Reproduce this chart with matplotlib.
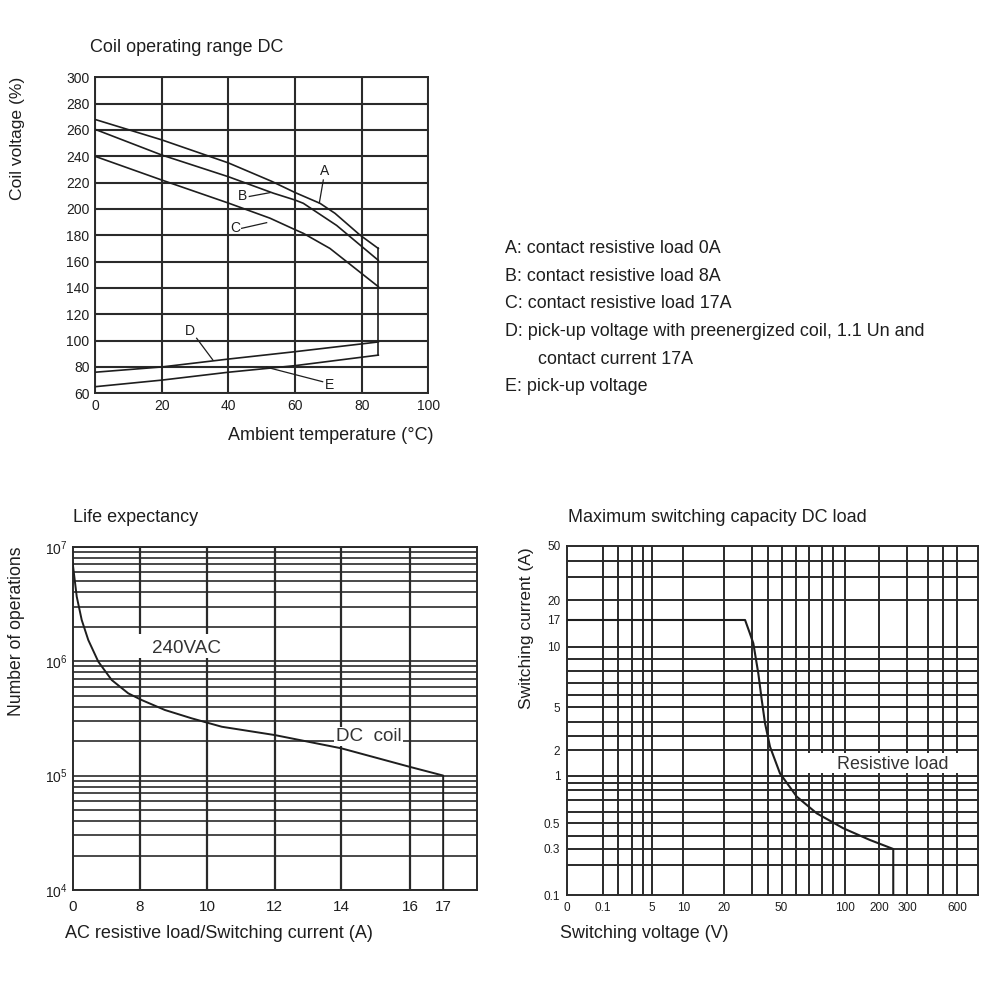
import numpy as np
import matplotlib
matplotlib.use("Agg")
import matplotlib.pyplot as plt
from matplotlib.patches import Rectangle
from matplotlib.ticker import LogLocator, NullFormatter

plt.rcParams['font.family'] = ['Liberation Sans', 'DejaVu Sans']
plt.rcParams['mathtext.fontset'] = 'custom'
plt.rcParams['mathtext.rm'] = 'Liberation Sans'

INK = '#1e1e1e'
GRID = '#2a2a2a'

# --- Coil operating range DC ---
temp_A = [0, 20, 40, 53, 60, 67.5, 72, 79.5, 85]
volt_A = [268, 252.5, 235, 221, 212.5, 204.3, 196.7, 180.2, 170]
temp_B = [0, 20, 40, 53.5, 60, 62.5, 72.5, 85]
volt_B = [260.5, 241, 224.5, 212, 206.8, 204.3, 187.5, 161]
temp_C = [0, 20, 40, 52.5, 60, 62.5, 70.5, 85]
volt_C = [240, 222, 204.5, 193, 184.3, 181.5, 170, 141]
temp_D = [0, 20, 40, 60, 85]
volt_D = [76, 80, 86, 91.6, 99]
temp_E = [0, 20, 40, 60, 85]
volt_E = [65, 70, 76, 81, 89]
edge_temp = [85, 85]
edge_volt = [170, 89]

# label letter, text position, leader start, leader end
curve_labels = [
    ('A', (69, 228.5), (68.5, 222), (67.3, 204.5)),
    ('B', (44.3, 209.5), (46.3, 209.5), (52.5, 212.4)),
    ('C', (42, 185.3), (44, 185.3), (51.5, 189.6)),
    ('D', (28.5, 107), (30.5, 101.8), (35.3, 85.5)),
    ('E', (70.3, 66.3), (68.3, 68.8), (51.5, 79.8)),
]

legend_lines = [
    'A: contact resistive load 0A',
    'B: contact resistive load 8A',
    'C: contact resistive load 17A',
    'D: pick-up voltage with preenergized coil, 1.1 Un and',
    'contact current 17A',
    'E: pick-up voltage',
]
legend_indent = [False, False, False, False, True, False]

# --- Life expectancy ---
life_current = [0, 0.07, 0.48, 1.07, 1.85, 3.04, 4.63, 6.6, 8.05, 8.74, 9.54,
                10.43, 12, 14, 16, 17, 17]
life_ops = [7.2e6, 6.5e6, 3.66e6, 2.29e6, 1.53e6, 9.9e5, 6.84e5, 5.23e5, 4.57e5,
            3.74e5, 3.16e5, 2.67e5, 2.26e5, 1.73e5, 1.19e5, 1.0e5, 1e4]
life_xticks = [0, 8, 10, 12, 14, 16, 17]
life_xgrid = [8, 10, 12, 14, 16]
life_yticks = [1e4, 1e5, 1e6, 1e7]
life_ylabels = [r'$10^{4}$', r'$10^{5}$', r'$10^{6}$', r'$10^{7}$']

# --- Maximum switching capacity DC load ---
sw_voltage = [0, 31, 33.5, 35.3, 37.9, 39.7, 41.4, 44.0, 49.2, 62, 77.7, 98.7,
              173.5, 251, 251]
sw_current = [17, 17, 13.5, 10.9, 7.8, 5.6, 3.88, 2.23, 1.09, 0.78, 0.605, 0.461,
              0.37, 0.3, 0.1]
sw_xticks = [0, 0.1, 5, 10, 20, 50, 100, 200, 300, 600]
sw_yticks = [0.1, 0.3, 0.5, 1, 2, 5, 10, 17, 20, 50]
sw_xgrid = [0.1, 1.6, 3, 4.1, 5, 10, 20, 34.5, 42.8, 50, 61.8, 71.7, 81.9, 90.8,
            100, 200, 300, 427, 513, 600]
sw_ygrid = [0.23, 0.3, 0.4, 0.5, 0.62, 0.75, 0.85, 0.92, 1, 2, 3, 4, 5, 6, 7, 8,
            9, 10, 20, 32.9, 41.5]

# non-uniform printed scales of the datasheet (value -> fraction of axis)
life_x_knots = [0, 8, 10, 12, 14, 16, 17, 18]
life_x_frac = [0, 0.1667, 0.3333, 0.5, 0.665, 0.835, 0.917, 1.0]
sw_x_knots = [0, 0.1, 5, 10, 20, 50, 100, 200, 300, 600, 725]
sw_x_frac = [0, 0.0861, 0.2068, 0.2822, 0.3812, 0.5212, 0.6757, 0.7583, 0.8265,
             0.9489, 1.0]
sw_y_knots = [0.1, 0.3, 0.5, 1, 2, 5, 10, 17, 20, 50]
sw_y_frac = [0, 0.1317, 0.2053, 0.3415, 0.4151, 0.5373, 0.7108, 0.7873, 0.8445, 1.0]


def piecewise(knots, fracs):
    fwd = lambda v: np.interp(v, knots, fracs)
    inv = lambda p: np.interp(p, fracs, knots)
    return fwd, inv


def frame(ax, lw=1.4):
    for s in ax.spines.values():
        s.set_color(GRID)
        s.set_linewidth(lw)
    ax.tick_params(which='both', length=0, colors=INK)


fig = plt.figure(figsize=(10, 10), dpi=100)

# ===== chart 1 =====
ax1 = fig.add_axes([0.095, 0.6067, 0.3333, 0.316])
ax1.set_xlim(0, 100)
ax1.set_ylim(60, 300)
ax1.set_xticks(range(0, 101, 20))
ax1.set_yticks(range(60, 301, 20))
ax1.grid(True, color=GRID, lw=1.5)
ax1.set_axisbelow(True)
frame(ax1)
ax1.tick_params(labelsize=10, pad=4)
for t, v in [(temp_A, volt_A), (temp_B, volt_B), (temp_C, volt_C),
             (temp_D, volt_D), (temp_E, volt_E), (edge_temp, edge_volt)]:
    ax1.plot(t, v, color=INK, lw=1.2, zorder=3)
for letter, txt, p0, p1 in curve_labels:
    ax1.plot([p0[0], p1[0]], [p0[1], p1[1]], color=INK, lw=0.9, zorder=3)
    ax1.text(txt[0], txt[1], letter, fontsize=10, color=INK, ha='center',
             va='center', zorder=4)

fig.text(0.090, 1 - 0.047, 'Coil operating range DC', fontsize=13, color=INK,
         ha='left', va='center')
fig.text(0.018, 1 - 0.077, 'Coil voltage (%)', fontsize=12.6, color=INK,
         rotation=90, ha='center', va='top')
fig.text(0.433, 1 - 0.436, 'Ambient temperature (\u00b0C)', fontsize=13,
         color=INK, ha='right', va='center')

legend_y = [248.3, 276.7, 303.3, 331, 360, 386.7]
for line, y, ind in zip(legend_lines, legend_y, legend_indent):
    fig.text(0.538 if ind else 0.505, 1 - y / 1000, line, fontsize=12.9,
             color=INK, ha='left', va='center')

# ===== chart 2 =====
ax2 = fig.add_axes([0.0727, 0.110, 0.404, 0.3433])
ax2.set_xscale('function', functions=piecewise(life_x_knots, life_x_frac))
ax2.set_yscale('log')
ax2.set_xlim(0, 18)
ax2.set_ylim(1e4, 1e7)
ax2.set_xticks(life_xticks)
ax2.set_yticks(life_yticks)
ax2.set_yticklabels(life_ylabels)
ax2.yaxis.set_minor_locator(LogLocator(base=10, subs=np.arange(2, 10)))
ax2.yaxis.set_minor_formatter(NullFormatter())
ax2.grid(True, axis='y', which='both', color=GRID, lw=1.2)
for v in life_xgrid:
    ax2.axvline(v, color=GRID, lw=1.6, zorder=1)
ax2.set_axisbelow(True)
frame(ax2)
ax2.tick_params(axis='x', labelsize=11, pad=7)
ax2.tick_params(axis='y', labelsize=10, pad=4)
ax2.plot(life_current, life_ops, color=INK, lw=1.4, zorder=3)
ax2.add_patch(Rectangle((0.154, 0.676), 0.23, 0.07, transform=ax2.transAxes,
                        facecolor='white', edgecolor='none', zorder=2))
ax2.text(0.282, 0.703, '240VAC', transform=ax2.transAxes, fontsize=13.6,
         color='#333333', ha='center', va='center', zorder=4)
ax2.text(0.732, 0.447, 'DC  coil', transform=ax2.transAxes, fontsize=13.6,
         color='#333333', ha='center', va='center', zorder=4,
         bbox=dict(facecolor='white', edgecolor='none', pad=1))

fig.text(0.073, 1 - 0.518, 'Life expectancy', fontsize=13, color=INK,
         ha='left', va='center')
fig.text(0.017, 1 - 0.547, 'Number of operations', fontsize=12.7, color=INK,
         rotation=90, ha='center', va='top')
fig.text(0.065, 1 - 0.933, 'AC resistive load/Switching current (A)',
         fontsize=13, color=INK, ha='left', va='center')

# ===== chart 3 =====
ax3 = fig.add_axes([0.5673, 0.105, 0.411, 0.3493])
ax3.set_xscale('function', functions=piecewise(sw_x_knots, sw_x_frac))
ax3.set_yscale('function', functions=piecewise(sw_y_knots, sw_y_frac))
ax3.set_xlim(0, 725)
ax3.set_ylim(0.1, 50)
ax3.set_xticks(sw_xticks)
ax3.set_xticklabels([str(v) for v in sw_xticks])
ax3.set_yticks(sw_yticks)
ax3.set_yticklabels([str(v) for v in sw_yticks])
ax3.minorticks_off()
for v in sw_xgrid:
    ax3.axvline(v, color=GRID, lw=1.4, zorder=1)
for v in sw_ygrid:
    ax3.axhline(v, color=GRID, lw=1.4, zorder=1)
frame(ax3)
ax3.tick_params(labelsize=8.5, pad=5)
ax3.plot(sw_voltage, sw_current, color=INK, lw=1.5, zorder=3)
ax3.add_patch(Rectangle((0.586, 0.349), 0.414, 0.057, transform=ax3.transAxes,
                        facecolor='white', edgecolor='none', zorder=2))
ax3.text(0.793, 0.374, 'Resistive load', transform=ax3.transAxes,
         fontsize=12.9, color='#333333', ha='center', va='center', zorder=4)

fig.text(0.568, 1 - 0.517, 'Maximum switching capacity DC load', fontsize=13,
         color=INK, ha='left', va='center')
fig.text(0.527, 1 - 0.547, 'Switching current (A)', fontsize=12.5, color=INK,
         rotation=90, ha='center', va='top')
fig.text(0.560, 1 - 0.933, 'Switching voltage (V)', fontsize=12.9, color=INK,
         ha='left', va='center')

fig.savefig('out.png', dpi=100, facecolor='white')
